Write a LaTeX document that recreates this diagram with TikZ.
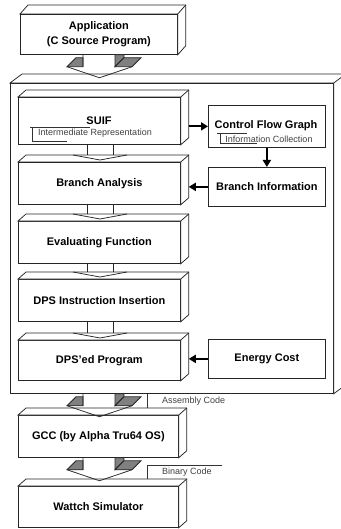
\documentclass[tikz,border=0pt]{standalone}
\usepackage{fontspec}
\setmainfont{Liberation Sans}
\usetikzlibrary{positioning,calc,arrows.meta}

\tikzset{
  edge/.style={draw=black!85, line width=0.75pt},
  stage/.style={edge, fill=white, anchor=north west, inner sep=0pt, align=center,
    minimum width=162pt, font=\bfseries\fontsize{11}{15}\selectfont},
  infobox/.style={stage, minimum width=117pt},
  title/.style={font=\bfseries\fontsize{11}{13}\selectfont, inner sep=0pt},
  caption/.style={font=\fontsize{9}{11}\selectfont, text=black!75, inner sep=0pt},
  flow/.style={-{Triangle[length=7pt,width=8pt]}, line width=1.8pt},
  tick/.style={draw=black!80, line width=0.6pt},
  shade/.style={edge, fill=gray},
}

% top and right faces of a box
\newcommand{\solidbox}[2]{%
  \filldraw[edge, fill=white] (#1.north west) -- ++(#2) -- ($(#1.north east)+(#2)$)
    -- ($(#1.south east)+(#2)$) -- (#1.south east) -- (#1.north east) -- cycle;
  \draw[edge] (#1.north east) -- ++(#2);
}

% grey block arrow under a node
\newcommand{\greyarrow}[1]{%
  \begin{scope}[shift={(0,0 |- #1.south)}]
    \filldraw[shade] (115,0) -- (115,12) -- (124,3) -- (124,0) -- cycle;
    \filldraw[shade] (67,12) -- (76,3) -- (83,3) -- (83,12) -- cycle;
    \filldraw[shade] (115,12) -- (132,12) -- (141,3) -- (124,3) -- cycle;
    \draw[edge] (83,0) -- (83,12) (67,12) -- (99.5,23) -- (132,12);
  \end{scope}}

% plain block arrow between two stages
\newcommand{\linkarrow}[2]{%
  \begin{scope}[shift={(0,0 |- #2.north)}]
    \draw[edge] (87,0 |- #1.south) -- (87,-7) (113,0 |- #1.south) -- (113,-7);
    \draw[edge] (73,-7) -- (100,-2) -- (127,-7);
  \end{scope}}

\begin{document}
\begin{tikzpicture}[x=1pt, y=-1pt]
  \useasboundingbox (0,0) rectangle (340,529);

  % source program
  \node[stage, minimum width=157pt, minimum height=40pt] (app) at (20,14)
    {Application\\(C Source Program)};
  \solidbox{app}{8,-9}

  % framework frame
  \node[edge, anchor=north west, minimum width=323pt, minimum height=310pt] (frame) at (10,83) {};
  \solidbox{frame}{12,-9}
  \greyarrow{app}

  % pipeline stages
  \node[stage, minimum height=47pt] (suif) at (18,97) {};
  \solidbox{suif}{8,-7}
  \node[title] (suiftitle) at (99,121) {SUIF};
  \node[caption] (suifnote) at (95,133) {Intermediate Representation};
  \draw[tick] (30,127) -- (90,127) (32,127) -- (32,141) -- (67,141);

  \node[stage, minimum height=42pt] (branch) at (18,162) {Branch Analysis};
  \solidbox{branch}{8,-7}
  \linkarrow{suif}{branch}

  \node[stage, minimum height=42pt] (eval) at (18,221) {Evaluating Function};
  \solidbox{eval}{8,-7}
  \linkarrow{branch}{eval}

  \node[stage, minimum height=42pt] (insert) at (18,279) {DPS Instruction Insertion};
  \solidbox{insert}{8,-7}
  \linkarrow{eval}{insert}

  \node[stage, minimum height=40pt] (dpsed) at (18,340) {DPS'ed Program};
  \solidbox{dpsed}{8,-7}
  \linkarrow{insert}{dpsed}

  % side information
  \node[infobox, minimum height=42pt] (cfg) at (208,105) {};
  \node[title] (cfgtitle) at (266,126) {Control Flow Graph};
  \node[caption] (cfgnote) at (269,139) {Information Collection};
  \draw[tick] (217,133) -- (247,133) (220,133) -- (220,143) -- (257,143);

  \node[infobox, minimum height=39pt] (binfo) at (208,167) {Branch Information};
  \node[infobox, minimum height=39pt] (energy) at (208,339) {Energy Cost};

  \draw[flow] ([xshift=8pt]suif.east |- cfg.west) -- (cfg.west);
  \draw[flow] (cfg.south) -- (binfo.north);
  \draw[flow] (binfo.west) -- ([xshift=8pt]branch.east |- binfo.west);
  \draw[flow] (energy.west) -- ([xshift=8pt]dpsed.east |- energy.west);

  % compile and simulate
  \node[stage, minimum width=160pt, minimum height=42pt] (gcc) at (18,415) {GCC (by Alpha Tru64 OS)};
  \solidbox{gcc}{8,-7}
  \greyarrow{frame}
  \draw[tick] (147,0 |- frame.south) -- (147,408);
  \node[caption, anchor=west] (asm) at (162,401) {Assembly Code};

  \node[stage, minimum width=160pt, minimum height=41pt] (wattch) at (18,486) {Wattch Simulator};
  \solidbox{wattch}{8,-7}
  \greyarrow{gcc}
  \draw[tick] (222,465) -- (147,465) -- (147,479);
  \node[caption, anchor=west] (bin) at (162,472) {Binary Code};
\end{tikzpicture}
\end{document}
